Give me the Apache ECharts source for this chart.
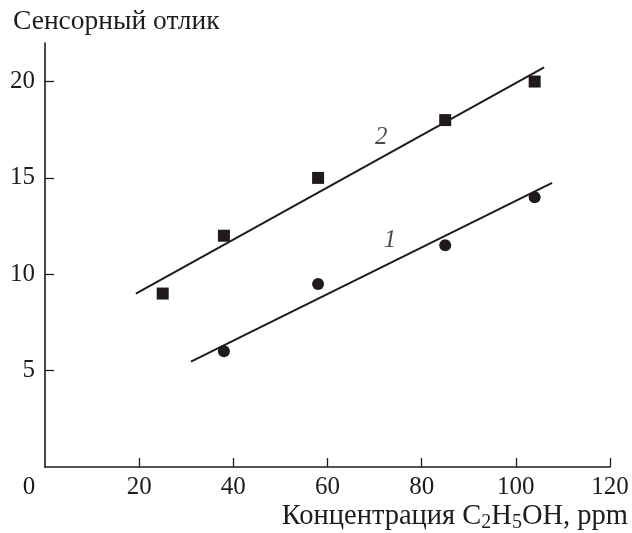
<!DOCTYPE html>
<html>
<head>
<meta charset="utf-8">
<script src="https://cdn.jsdelivr.net/npm/echarts@6/dist/echarts.min.js"></script>
<style>html,body{margin:0;padding:0;background:#fff}#c{width:632px;height:533px}</style>
</head>
<body>
<div id="c"></div>
<script>
// Data
var squaresX = [25, 38, 58, 85, 104];
var squaresY = [9, 12, 15, 18, 20];
var circlesX = [38, 58, 85, 104];
var circlesY = [6, 9.5, 11.5, 14];
var fit2 = [[19.3, 9.0], [106, 20.73]];
var fit1 = [[31, 5.47], [107.7, 14.74]];
var curveLabels = [[71.4, 17.1, '2'], [73.3, 11.76, '1']];
var xTicks = [20, 40, 60, 80, 100, 120];
var xLabels = [0, 20, 40, 60, 80, 100, 120];
var yTicks = [5, 10, 15, 20];

var ink = '#1f1b1c';
var font = '"Liberation Serif", "DejaVu Serif", serif';

function zip(xs, ys) { return xs.map(function (x, i) { return [x, ys[i]]; }); }

var chart = echarts.init(document.getElementById('c'), null, { renderer: 'canvas' });
chart.setOption({
  animation: false,
  backgroundColor: '#fff',
  title: {
    text: 'Сенсорный отлик',
    left: 8, top: 3,
    textStyle: { fontFamily: font, fontSize: 27.5, fontWeight: 'normal', color: ink }
  },
  grid: { left: 45, right: 22, top: 43, bottom: 66 },
  xAxis: {
    type: 'value', min: 0, max: 120, interval: 20,
    name: '{a|Концентрация C}{s|2}{a|H}{s|5}{a|OH, ppm}',
    nameLocation: 'end', nameGap: 18,
    nameTextStyle: {
      align: 'right', verticalAlign: 'top', padding: [34, 0, 0, 0],
      rich: {
        a: { fontFamily: font, fontSize: 28.5, color: ink, lineHeight: 31 },
        s: { fontFamily: font, fontSize: 20, color: ink, lineHeight: 22, verticalAlign: 'bottom', padding: [0, 0, -1, 0] }
      }
    },
    axisLine: { show: true, onZero: false, lineStyle: { color: ink, width: 1.6 } },
    axisTick: { show: true, inside: true, length: 9, customValues: xTicks, lineStyle: { color: ink, width: 1.3 } },
    axisLabel: {
      customValues: xLabels, margin: 8,
      fontFamily: font, fontSize: 25, color: ink,
      formatter: function (v) { return v === 0 ? '{o|0}' : String(v); },
      rich: { o: { fontFamily: font, fontSize: 25, color: ink, padding: [0, 32, 0, 0] } }
    },
    splitLine: { show: false }
  },
  yAxis: {
    type: 'value', min: 0, max: 22, interval: 5,
    axisLine: { show: true, onZero: false, lineStyle: { color: ink, width: 1.6 } },
    axisTick: { show: true, inside: true, length: 9, customValues: yTicks, lineStyle: { color: ink, width: 1.3 } },
    axisLabel: { customValues: yTicks, margin: 10, fontFamily: font, fontSize: 25, color: ink },
    splitLine: { show: false }
  },
  series: [
    { type: 'line', data: fit2, symbol: 'none', lineStyle: { color: ink, width: 2 }, z: 2 },
    { type: 'line', data: fit1, symbol: 'none', lineStyle: { color: ink, width: 2 }, z: 2 },
    { type: 'scatter', data: zip(squaresX, squaresY), symbol: 'rect', symbolSize: 12, itemStyle: { color: ink, opacity: 1 }, z: 3 },
    { type: 'scatter', data: zip(circlesX, circlesY), symbol: 'circle', symbolSize: 12, itemStyle: { color: ink, opacity: 1 }, z: 3 },
    {
      type: 'scatter', data: curveLabels, symbolSize: 0, silent: true,
      label: {
        show: true, position: 'inside',
        formatter: function (p) { return p.value[2]; },
        fontFamily: font, fontSize: 25, fontStyle: 'italic', color: ink
      }
    }
  ]
});
</script>
</body>
</html>
